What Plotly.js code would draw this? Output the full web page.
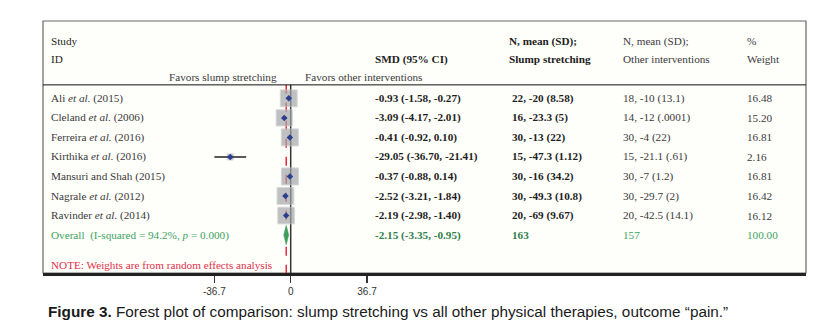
<!DOCTYPE html>
<html>
<head>
<meta charset="utf-8">
<script src="https://cdn.plot.ly/plotly-3.0.1.min.js"></script>
<style>
html,body{margin:0;padding:0;background:#fff;}
#chart{width:831px;height:331px;}
</style>
</head>
<body>
<div id="chart"></div>
<script>
// ---- data ----
const studies = ["Ali <i>et al.</i> (2015)", "Cleland <i>et al.</i> (2006)", "Ferreira <i>et al.</i> (2016)",
  "Kirthika <i>et al.</i> (2016)", "Mansuri and Shah (2015)", "Nagrale <i>et al.</i> (2012)", "Ravinder <i>et al.</i> (2014)"];
const smd    = [-0.93, -3.09, -0.41, -29.05, -0.37, -2.52, -2.19];
const ciLow  = [-1.58, -4.17, -0.92, -36.70, -0.88, -3.21, -2.98];
const ciHigh = [-0.27, -2.01, 0.10, -21.41, 0.14, -1.84, -1.40];
const nSlump    = [22, 16, 30, 15, 30, 30, 20];
const meanSlump = ["-20", "-23.3", "-13", "-47.3", "-16", "-49.3", "-69"];
const sdSlump   = ["8.58", "5", "22", "1.12", "34.2", "10.8", "9.67"];
const nOther    = [18, 14, 30, 15, 30, 30, 20];
const meanOther = ["-10", "-12", "-4", "-21.1", "-7", "-29.7", "-42.5"];
const sdOther   = ["13.1", ".0001", "22", ".61", "1.2", "2", "14.1"];
const weights   = [16.48, 15.20, 16.81, 2.16, 16.81, 16.42, 16.12];
const overall = {label: "Overall  (I-squared = 94.2%, <i>p</i> = 0.000)", smd: -2.15, low: -3.35, high: -0.95, nSlump: 163, nOther: 157, weight: 100.00};
const tickVals = [-36.7, 0, 36.7];
const tickText = ["-36.7", "0", "36.7"];

// ---- layout constants ----
const W = 831, H = 331;
const frameL = 43, frameR = 806, frameT = 20.5, frameB = 273;
const zeroPx = 290.7, pxPerUnit = 2.08;
const rowTopPx = 98, rowStep = 19.57;
const xMin = (frameL - zeroPx) / pxPerUnit, xMax = (frameR - zeroPx) / pxPerUnit;
const yOf = px => (px - rowTopPx) / rowStep;
const paperX = px => (px - frameL) / (frameR - frameL);

const rows = studies.map((_, i) => i);
const overallRow = studies.length;
const sepY = yOf(84.5);

const serif = "Liberation Serif, Times New Roman, serif";
const dark = "#1e1e1e";
const grayTxt = "#3a3a3a";
const green = "#3fa463";
const greenDark = "#2f7f4c";
const red = "#e0304a";
const FS = 11.2;

const traces = [];
// weight boxes
traces.push({
  type: "scatter", mode: "markers", x: smd, y: rows, hoverinfo: "skip",
  marker: {symbol: "square", size: weights.map(w => 4.15 * Math.sqrt(w)), color: "#a3a6a9",
           line: {color: "#c6c8ca", width: 1}}
});
// CI lines + point estimates
traces.push({
  type: "scatter", mode: "markers", x: smd, y: rows, hoverinfo: "skip",
  error_x: {type: "data", symmetric: false,
            array: smd.map((v, i) => ciHigh[i] - v), arrayminus: smd.map((v, i) => v - ciLow[i]),
            color: "#222", thickness: 1.6, width: 0},
  marker: {symbol: "diamond", size: 5, color: "#2c3f8e"}
});
// overall diamond
traces.push({
  type: "scatter", mode: "lines", fill: "toself", fillcolor: "#3e9d5c", hoverinfo: "skip",
  x: [overall.low, overall.smd, overall.high, overall.smd, overall.low],
  y: [overallRow, overallRow - 0.5, overallRow, overallRow + 0.5, overallRow],
  line: {color: "#3e9d5c", width: 0.5}
});

const ann = [];
function txt(px, y, text, opts) {
  ann.push(Object.assign({xref: "paper", yref: "y", x: paperX(px), y: y, text: text, showarrow: false,
    xanchor: "left", yanchor: "middle", font: {family: serif, size: FS, color: dark}}, opts || {}));
}
const g = c => ({font: {family: serif, size: FS, color: c}});
const colStudy = 49, colSMD = 373, colSlumpH = 507, colSlump = 510, colOther = 621, colW = 745;
// headers
txt(colStudy, yOf(41), "Study");
txt(colStudy, yOf(59), "ID");
txt(colSMD, yOf(59), "<b>SMD (95% CI)</b>");
txt(colSlumpH, yOf(41), "<b>N, mean (SD);</b>");
txt(colSlumpH, yOf(59), "<b>Slump stretching</b>");
txt(colOther, yOf(41), "N, mean (SD);", g(grayTxt));
txt(colOther, yOf(59), "Other interventions", g(grayTxt));
txt(colW, yOf(41), "%", g(grayTxt));
txt(colW, yOf(59), "Weight", g(grayTxt));
txt(279, yOf(77), "Favors slump stretching", Object.assign({xanchor: "right"}, g(grayTxt)));
txt(303, yOf(77), "Favors other interventions", g(grayTxt));
// rows
rows.forEach(i => {
  txt(colStudy, i, studies[i], g(grayTxt));
  txt(colSMD, i, "<b>" + smd[i].toFixed(2) + " (" + ciLow[i].toFixed(2) + ", " + ciHigh[i].toFixed(2) + ")</b>");
  txt(colSlump, i, "<b>" + nSlump[i] + ", " + meanSlump[i] + " (" + sdSlump[i] + ")</b>");
  txt(colOther, i, nOther[i] + ", " + meanOther[i] + " (" + sdOther[i] + ")", g(grayTxt));
  txt(colW, i, weights[i].toFixed(2), g(grayTxt));
});
// overall row
txt(colStudy, overallRow, overall.label, g(green));
txt(colSMD, overallRow, "<b>" + overall.smd.toFixed(2) + " (" + overall.low.toFixed(2) + ", " + overall.high.toFixed(2) + ")</b>", g(greenDark));
txt(colSlump, overallRow, "<b>" + overall.nSlump + "</b>", g(greenDark));
txt(colOther, overallRow, String(overall.nOther), g(green));
txt(colW, overallRow, overall.weight.toFixed(2), g(green));
// note
txt(colStudy, yOf(265), "NOTE: Weights are from random effects analysis", g(red));
// caption
ann.push({xref: "paper", yref: "paper", x: (46 - frameL) / (frameR - frameL), y: -(312 - frameB) / (frameB - frameT),
  xanchor: "left", yanchor: "middle", showarrow: false,
  text: "<b>Figure 3.</b> Forest plot of comparison: slump stretching vs all other physical therapies, outcome \u201cpain.\u201d",
  font: {family: "Liberation Sans, Arial, sans-serif", size: 15.3, color: "#1a1a1a"}});

const shapes = [
  {type: "rect", xref: "paper", yref: "paper", x0: 0, x1: 1, y0: 0, y1: 1, line: {color: "#666", width: 1.2}, layer: "below"},
  {type: "line", xref: "paper", yref: "y", x0: 0, x1: 1, y0: sepY, y1: sepY, line: {color: "#111", width: 1}},
  {type: "line", xref: "x", yref: "y", x0: 0, x1: 0, y0: sepY, y1: yOf(frameB), line: {color: "#333", width: 1.5}, layer: "below"},
  {type: "line", xref: "x", yref: "y", x0: overall.smd, x1: overall.smd, y0: sepY, y1: yOf(frameB), line: {color: "#e8283e", width: 1.5, dash: "dash"}, layer: "below"}
];

const layout = {
  width: W, height: H,
  margin: {l: frameL, r: W - frameR, t: frameT, b: H - frameB, pad: 0},
  paper_bgcolor: "#ffffff", plot_bgcolor: "#fefefa",
  showlegend: false,
  xaxis: {range: [xMin, xMax], showgrid: false, zeroline: false, showline: true, linecolor: "#222", linewidth: 2.5,
          ticks: "outside", ticklen: 7, tickwidth: 1.2, tickcolor: "#333",
          tickmode: "array", tickvals: tickVals, ticktext: tickText,
          tickfont: {family: "Liberation Sans, Arial, sans-serif", size: 10, color: "#333"}, fixedrange: true},
  yaxis: {range: [yOf(frameB), yOf(frameT)], visible: false, fixedrange: true},
  shapes: shapes,
  annotations: ann
};

Plotly.newPlot("chart", traces, layout, {displayModeBar: false, staticPlot: true});
</script>
</body>
</html>
